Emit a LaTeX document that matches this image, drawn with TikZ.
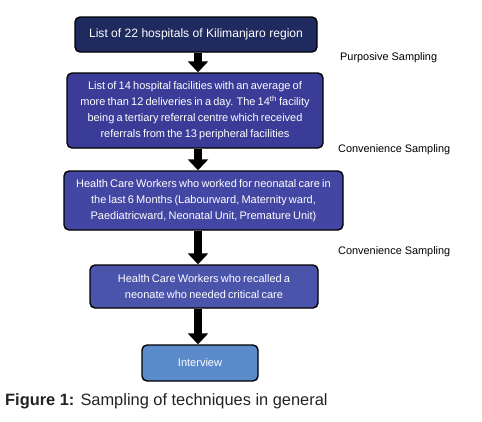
\documentclass[tikz,border=0pt]{standalone}
\usepackage{fontspec}
\setmainfont{Liberation Sans}
\usetikzlibrary{arrows.meta}
\definecolor{cA}{HTML}{1F2A5E}
\definecolor{cB}{HTML}{3B3B98}
\definecolor{cC}{HTML}{4346A2}
\definecolor{cD}{HTML}{4A54AA}
\definecolor{cE}{HTML}{5B8BCB}
\definecolor{capc}{HTML}{222222}
\newcommand{\myboxfont}{\fontsize{11}{16}\selectfont\spaceskip=2.2pt plus 0.5pt minus 0.5pt\relax}
\tikzset{
  box/.style={draw=black, line width=1.4pt, rounded corners=5pt, text=white,
    align=center, font=\myboxfont, inner sep=0pt},
  arr/.style={line width=8pt, -{Triangle[width=20pt,length=11pt]}},
  lab/.style={anchor=west, font=\fontsize{10.9}{12}\selectfont, text=black, inner sep=0pt}
}
\begin{document}
\begin{tikzpicture}[x=1pt,y=-1pt]
\useasboundingbox (0,0) rectangle (482,421);
\node[box, fill=cA, minimum width=242pt, minimum height=35pt, font=\fontsize{12.1}{14}\selectfont] (b1) at (196,34.5)
  {List of 22 hospitals of Kilimanjaro region};
\node[box, fill=cB, minimum width=256pt, minimum height=75pt] (b2) at (195,110.5)
  {List of 14 hospital facilities with an average of\\more than 12 deliveries in a day. The 14\textsuperscript{th} facility\\being a tertiary referral centre which received\\referrals from the 13 peripheral facilities};
\node[box, fill=cC, minimum width=279pt, minimum height=59pt] (b3) at (203.5,200.5)
  {Health Care Workers who worked for neonatal care in\\the last 6 Months (Labourward, Maternity ward,\\Paediatricward, Neonatal Unit, Premature Unit)};
\node[box, fill=cD, minimum width=228pt, minimum height=43pt] (b4) at (204,286.5)
  {Health Care Workers who recalled a\\neonate who needed critical care};
\node[box, fill=cE, minimum width=116pt, minimum height=36pt] (b5) at (200,363)
  {Interview};
\coordinate (col) at (198,0);
\draw[arr] (b1.south -| col) -- (b2.north -| col);
\draw[arr] (b2.south -| col) -- (b3.north -| col);
\draw[arr] (b3.south -| col) -- (b4.north -| col);
\draw[arr] (b4.south -| col) -- (b5.north -| col);
\node[lab] (l1) at (340,58) {Purposive Sampling};
\node[lab] (l2) at (338,149.5) {Convenience Sampling};
\node[lab] (l3) at (338,251.5) {Convenience Sampling};
\node[anchor=west, inner sep=0pt, text=capc, font=\fontsize{16.4}{18}\selectfont] (cap) at (5,401)
  {\textbf{Figure 1:} Sampling of techniques in general};
\end{tikzpicture}
\end{document}
